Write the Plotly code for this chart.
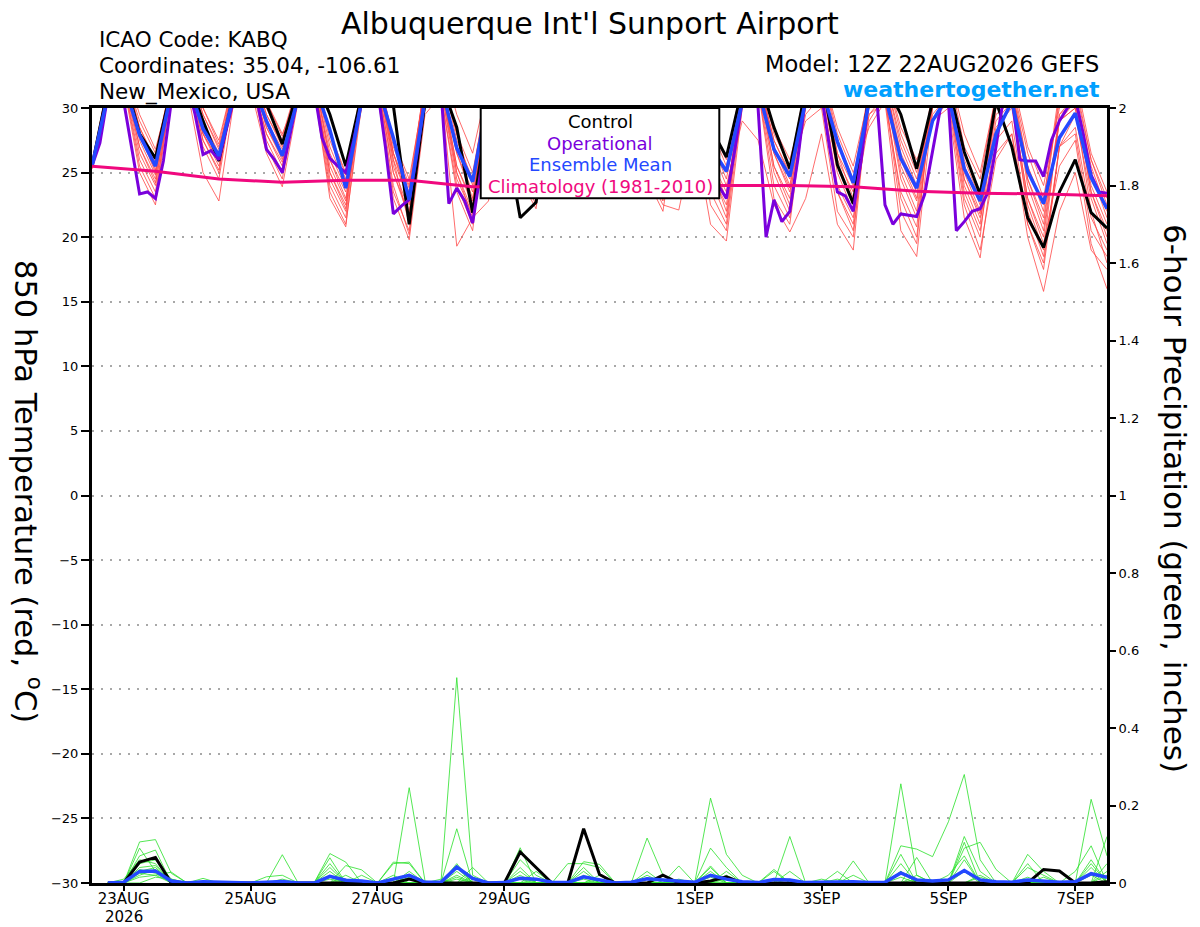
import pandas as pd
import plotly.graph_objects as go

# ---------------- DATA ----------------
RUN_START = "2026-08-22 12:00"
PRECIP_START = "2026-08-22 18:00"

tick_dates = ["2026-08-23", "2026-08-25", "2026-08-27", "2026-08-29",
              "2026-09-01", "2026-09-03", "2026-09-05", "2026-09-07"]
tick_labels = ["23AUG", "25AUG", "27AUG", "29AUG", "1SEP", "3SEP", "5SEP", "7SEP"]
year_label = "2026"

# 850 hPa temperature ensemble members (6-hourly, 22AUG 12Z .. 7SEP 12Z)
member_temps = [
    [25.6, 31.5, 32.8, 27.5, 24.8, 31.8, 33.0, 28.5, 26.2, 32.0, 33.5, 29.5, 27.0, 31.0, 32.0, 25.0, 22.5,
     30.5, 32.5, 26.0, 21.0, 31.0, 32.0, 26.5, 23.0, 31.5, 32.5, 27.5, 24.5, 32.0, 33.0, 28.5, 25.5,
     31.5, 32.5, 27.0, 24.0, 30.5, 31.5, 25.5, 22.0, 31.0, 32.5, 27.0, 24.5, 30.0, 31.5, 24.0, 21.5,
     30.5, 32.0, 25.5, 22.8, 29.5, 31.0, 23.5, 20.5, 28.0, 30.5, 22.0, 18.5, 27.0, 29.5, 23.0, 19.5],
    [25.4, 31.2, 32.5, 28.0, 25.5, 31.5, 32.8, 27.5, 25.0, 31.8, 33.0, 28.5, 26.0, 31.5, 32.5, 26.5, 23.8,
     30.8, 32.0, 24.0, 20.2, 30.0, 31.5, 25.0, 21.5, 31.5, 33.0, 28.0, 25.0, 32.2, 33.5, 29.0, 26.0,
     31.0, 32.0, 26.0, 23.0, 31.2, 32.8, 27.5, 24.5, 30.8, 31.5, 25.0, 22.0, 31.0, 32.0, 26.5, 23.0,
     29.5, 31.0, 23.0, 20.0, 31.0, 32.0, 25.5, 22.5, 30.0, 31.5, 24.5, 21.0, 29.5, 31.0, 25.0, 21.5],
    [25.7, 31.8, 33.0, 29.0, 26.5, 32.0, 33.5, 29.5, 27.0, 31.5, 32.5, 28.0, 25.5, 31.8, 33.0, 27.5, 24.5,
     31.5, 32.8, 26.5, 22.5, 32.0, 33.0, 28.0, 24.0, 31.0, 32.5, 26.0, 23.5, 31.5, 32.5, 27.5, 25.0,
     32.0, 33.0, 28.5, 25.5, 31.0, 32.0, 26.0, 23.0, 31.5, 33.0, 28.0, 25.5, 31.8, 33.0, 27.5, 24.5,
     31.5, 32.5, 27.0, 24.0, 31.0, 32.0, 26.5, 23.5, 30.5, 31.5, 24.0, 20.5, 29.0, 30.0, 22.0, 18.0],
    [25.3, 30.8, 32.0, 26.0, 23.5, 31.2, 32.5, 27.0, 24.5, 31.8, 33.0, 29.0, 26.5, 30.5, 31.8, 24.0, 21.5,
     31.5, 32.5, 26.5, 23.0, 30.0, 31.5, 19.3, 21.5, 22.8, 29.5, 25.0, 22.5, 31.0, 32.0, 27.0, 24.5,
     30.5, 31.5, 25.0, 22.5, 22.1, 28.0, 21.0, 19.7, 30.0, 31.5, 23.0, 21.0, 30.5, 32.0, 25.0, 22.0,
     29.0, 31.0, 22.0, 19.5, 31.5, 33.0, 27.0, 24.5, 31.0, 32.0, 26.5, 23.0, 30.5, 31.5, 26.0, 22.5],
    [25.5, 31.5, 32.8, 28.0, 25.0, 32.0, 33.2, 29.0, 26.5, 32.5, 33.8, 30.0, 27.5, 32.0, 33.0, 28.0, 25.0,
     31.0, 32.0, 25.0, 21.5, 30.5, 32.0, 25.5, 22.5, 32.0, 33.5, 29.0, 26.0, 32.5, 34.0, 30.0, 27.0,
     32.0, 33.5, 29.0, 26.0, 31.5, 33.0, 28.5, 25.5, 31.0, 32.5, 26.5, 23.5, 29.5, 31.0, 23.5, 20.5,
     30.5, 32.0, 26.0, 23.5, 29.0, 30.5, 22.5, 19.0, 26.0, 28.0, 20.0, 15.8, 22.0, 25.0, 19.0, 17.5],
    [25.6, 31.0, 32.2, 26.5, 24.0, 31.5, 32.8, 28.0, 25.5, 31.2, 32.5, 27.5, 25.0, 30.8, 32.0, 24.5, 22.0,
     31.8, 33.0, 27.5, 24.0, 32.0, 33.0, 28.0, 25.0, 31.5, 32.5, 27.0, 24.0, 32.0, 33.0, 28.0, 25.5,
     31.0, 32.5, 26.5, 23.5, 30.5, 31.5, 23.5, 21.0, 31.5, 32.5, 27.0, 24.0, 31.0, 32.5, 26.5, 24.0,
     30.0, 31.5, 24.5, 21.5, 30.5, 31.5, 24.0, 21.0, 31.0, 32.0, 25.5, 22.5, 31.5, 32.5, 26.5, 23.5],
    [25.5, 31.8, 33.0, 28.5, 26.0, 32.2, 33.5, 30.0, 27.5, 32.5, 34.0, 30.5, 28.0, 31.0, 32.5, 26.0, 23.0,
     30.0, 31.0, 23.0, 19.8, 29.5, 31.0, 24.0, 21.0, 31.0, 32.0, 26.0, 23.0, 31.5, 32.5, 27.0, 24.0,
     31.5, 32.5, 27.5, 24.5, 31.0, 32.5, 27.0, 24.0, 29.0, 27.5, 22.5, 20.4, 23.0, 28.0, 21.0, 19.0,
     31.5, 33.0, 28.0, 25.0, 30.5, 31.5, 25.0, 22.0, 29.0, 30.5, 23.0, 19.5, 25.5, 27.5, 19.5, 16.0],
    [25.3, 30.5, 31.8, 25.0, 22.5, 31.5, 32.8, 28.5, 26.0, 32.0, 33.2, 29.0, 26.8, 30.5, 31.5, 23.0, 20.8,
     31.0, 32.5, 25.5, 22.0, 30.8, 32.0, 25.0, 22.0, 32.0, 33.0, 28.5, 25.5, 32.0, 33.5, 29.0, 26.5,
     30.0, 31.0, 24.5, 22.0, 30.5, 32.0, 25.0, 22.5, 31.0, 32.0, 25.5, 23.0, 31.5, 33.0, 28.0, 25.0,
     28.5, 30.5, 20.5, 18.5, 30.0, 31.0, 23.0, 20.0, 30.5, 31.5, 24.5, 21.5, 29.0, 30.5, 23.5, 20.0],
    [25.8, 31.8, 33.0, 28.5, 25.8, 30.5, 31.5, 25.0, 22.8, 31.0, 32.0, 27.0, 24.5, 31.5, 32.8, 27.0, 24.0,
     32.0, 33.0, 27.5, 24.5, 31.5, 32.5, 26.5, 23.5, 31.5, 33.0, 27.5, 24.8, 32.0, 33.0, 28.5, 25.8,
     31.5, 33.0, 27.5, 25.0, 32.0, 33.5, 28.5, 26.0, 32.0, 33.0, 28.5, 26.0, 30.5, 31.5, 25.5, 22.5,
     31.0, 32.0, 26.0, 23.0, 31.5, 33.0, 28.0, 25.0, 31.0, 32.5, 27.0, 24.0, 30.0, 31.0, 25.5, 22.0],
    [25.4, 31.2, 32.5, 27.0, 24.5, 32.0, 33.5, 29.5, 26.8, 32.2, 33.5, 29.5, 27.2, 31.2, 32.0, 25.5, 22.8,
     30.8, 32.0, 25.0, 21.8, 30.0, 31.0, 23.5, 20.5, 30.5, 32.0, 26.5, 23.8, 31.5, 32.5, 27.5, 24.8,
     31.0, 32.5, 26.5, 23.8, 29.5, 30.5, 22.5, 20.5, 30.5, 32.0, 25.5, 22.5, 30.0, 31.0, 23.5, 21.0,
     32.0, 33.0, 28.5, 26.0, 29.0, 30.0, 21.5, 18.4, 27.5, 29.0, 21.0, 17.5, 27.0, 28.5, 21.5, 19.0],
    [25.6, 30.8, 32.0, 25.5, 23.0, 31.8, 33.0, 28.0, 25.8, 31.5, 32.8, 28.5, 26.2, 31.5, 32.5, 26.0, 23.5,
     31.5, 32.8, 26.5, 23.5, 32.0, 33.0, 27.5, 24.5, 32.5, 33.5, 29.5, 26.5, 32.0, 33.0, 28.0, 25.2,
     31.5, 33.0, 27.5, 24.8, 31.0, 32.0, 26.0, 23.5, 30.5, 31.5, 24.0, 21.5, 31.0, 32.5, 26.0, 23.5,
     30.5, 31.5, 25.0, 22.0, 31.0, 32.0, 26.0, 23.0, 29.5, 30.5, 23.0, 20.0, 29.0, 30.0, 24.0, 21.0],
    [25.5, 32.0, 33.5, 29.5, 26.8, 31.5, 32.5, 28.0, 26.0, 30.5, 31.5, 26.5, 23.9, 30.5, 31.5, 23.5, 21.0,
     30.2, 31.5, 23.5, 20.5, 31.0, 32.0, 25.5, 22.8, 31.0, 32.5, 27.0, 24.2, 32.5, 33.5, 29.5, 26.8,
     30.5, 31.8, 25.5, 22.8, 31.5, 32.5, 27.5, 25.0, 31.5, 32.5, 27.5, 25.0, 29.0, 30.0, 22.0, 20.0,
     31.5, 32.5, 27.5, 24.5, 30.5, 31.5, 24.5, 21.5, 26.5, 28.0, 21.0, 18.0, 27.0, 28.0, 20.5, 18.5],
    [25.7, 31.5, 33.0, 28.0, 25.2, 32.0, 33.5, 30.0, 27.2, 32.5, 33.8, 30.5, 27.8, 32.0, 33.0, 28.0, 24.8,
     31.0, 32.5, 26.0, 22.8, 32.5, 34.0, 29.5, 26.5, 32.0, 33.5, 28.5, 25.5, 32.5, 34.0, 30.0, 27.5,
     32.0, 33.5, 29.5, 26.5, 30.5, 31.5, 24.5, 21.5, 31.0, 32.5, 26.5, 23.8, 30.5, 32.0, 25.5, 22.8,
     29.5, 30.5, 23.5, 20.8, 30.5, 32.0, 25.5, 22.8, 30.5, 31.5, 25.5, 22.0, 31.0, 32.0, 26.0, 23.0],
    [25.4, 31.0, 32.2, 27.0, 24.2, 31.5, 32.5, 27.5, 25.2, 31.5, 32.5, 28.0, 25.8, 31.0, 32.0, 25.0, 22.2,
     31.5, 33.0, 27.0, 23.8, 30.5, 31.5, 24.5, 21.8, 30.5, 31.5, 24.5, 22.2, 31.5, 32.5, 27.5, 25.0,
     31.0, 32.0, 25.5, 23.2, 31.0, 32.0, 25.5, 23.0, 31.5, 32.5, 27.5, 24.8, 32.0, 33.0, 28.5, 25.5,
     31.0, 32.0, 26.5, 23.8, 30.0, 31.0, 24.5, 21.8, 28.5, 30.0, 22.5, 19.0, 29.5, 30.5, 23.5, 20.5],
]

control_temp = [25.5,
                31.5, 32.5, 28.0, 26.1, 31.5, 32.5, 29.0, 25.9, 31.5, 32.5, 30.3, 27.2, 31.5, 32.5, 29.5, 25.5,
                31.0, 32.5, 30.2, 21.0, 30.5, 32.0, 28.5, 21.9, 30.0, 28.5, 21.5, 22.7, 31.0, 32.5, 28.5, 25.5,
                31.0, 32.5, 28.0, 25.5, 31.0, 32.0, 28.5, 26.2, 31.5, 32.5, 28.5, 25.3, 31.5, 32.5, 25.6, 22.6,
                31.0, 32.0, 29.5, 25.3, 30.5, 31.8, 26.6, 23.3, 30.5, 27.0, 21.5, 19.2, 23.5, 26.0, 21.9, 20.7]

mean_temp = [25.5,
             31.0, 32.0, 27.9, 25.5, 31.2, 32.2, 28.4, 26.3, 31.3, 32.3, 29.0, 26.3, 30.8, 32.0, 28.3, 23.8,
             30.6, 31.8, 27.7, 22.9, 30.7, 31.8, 26.9, 24.3, 31.0, 32.0, 27.2, 24.6, 31.2, 32.3, 27.8, 25.3,
             31.0, 32.0, 27.0, 24.6, 30.8, 31.8, 27.0, 25.1, 30.5, 31.5, 26.8, 24.7, 30.6, 31.6, 27.4, 24.2,
             30.5, 31.0, 26.1, 23.8, 29.0, 31.0, 25.3, 22.8, 28.0, 30.5, 25.1, 22.6, 27.7, 29.6, 24.6, 22.2]

# operational run, 3-hourly
operational_temp = [25.5, 27.3, 31.0, 32.0,
                    30.5, 27.0, 23.35, 23.5, 23.0, 25.9, 30.5, 32.0,
                    32.0, 29.5, 26.4, 26.7, 26.0, 28.5, 31.0, 32.0,
                    32.0, 30.0, 26.8, 26.0, 25.0, 28.0, 31.0, 32.0,
                    31.5, 27.7, 26.1, 25.5, 25.0, 27.5, 30.5, 31.5,
                    31.5, 27.0, 21.8, 22.4, 22.9, 26.5, 31.0, 32.0,
                    31.5, 22.6, 23.8, 22.8, 21.1, 25.0, 30.0, 31.0,
                    32.0, 29.0, 26.0, 25.0, 24.5, 27.0, 31.0, 32.0,
                    32.0, 29.5, 26.5, 25.5, 25.0, 28.0, 31.5, 32.5,
                    32.0, 29.0, 26.0, 25.0, 24.5, 27.5, 31.0, 32.0,
                    31.5, 28.0, 25.0, 24.0, 23.0, 26.5, 30.5, 31.5,
                    30.0, 20.0, 22.9, 21.2, 22.0, 26.0, 31.0, 32.0,
                    31.0, 27.0, 23.5, 23.2, 22.0, 26.0, 31.0, 30.5,
                    22.5, 21.0, 21.8, 21.7, 21.6, 23.3, 26.6, 30.0,
                    30.5, 20.5, 21.2, 22.0, 22.2, 23.5, 27.0, 31.0,
                    31.0, 26.0, 25.9, 25.9, 24.7, 27.5, 29.0, 30.0,
                    30.8, 28.0, 24.8, 23.5, 23.4]

# 1981-2010 climatology, daily at 12Z
climatology_temp = [25.5, 25.1, 24.5, 24.25, 24.4, 24.4, 23.9, 23.9, 24.0,
                    24.0, 24.05, 24.0, 23.9, 23.55, 23.4, 23.35, 23.2]

# 6-hour precipitation members (22AUG 18Z .. 7SEP 12Z)
member_precip = [
    [0, 0, .106, .112, .025, 0, 0, 0,  0, 0, 0, 0, 0, 0, .04, 0,  0, 0, 0, .246, .005, 0, 0, 0,  0, 0, 0, 0, 0, 0, 0, 0,
     0, 0, 0, 0, 0, 0, .044, 0,  0, 0, 0, 0, 0, 0, 0, 0,  0, 0, .03, 0, 0, 0, .105, 0,  0, 0, 0, 0, 0, 0, .06, 0],
    [0, 0, .09, .03, 0, 0, 0, 0,  0, 0, 0, .073, 0, 0, .076, .054,  0, 0, 0, 0, 0, 0, .53, .02,  0, 0, .04, 0, 0, 0, 0, 0,
     0, 0, 0, 0, 0, 0, 0, 0,  0, 0, 0, .12, 0, 0, 0, 0,  0, 0, 0, .066, 0, 0, 0, 0,  0, 0, .074, .03, 0, 0, 0, 0],
    [0, 0, .07, .085, 0, 0, .012, 0,  0, 0, 0, 0, 0, 0, .065, 0,  0, 0, .054, .05, 0, 0, .14, 0,  0, 0, 0, .03, 0, 0, 0, 0,
     0, 0, .116, .02, 0, 0, 0, 0,  0, 0, 0, 0, 0, 0, 0, 0,  0, 0, .256, .02, 0, 0, 0, 0,  0, 0, 0, 0, 0, 0, 0, .12],
    [0, 0, .05, .06, .01, 0, 0, 0,  0, 0, 0, 0, 0, 0, 0, .045,  .034, 0, 0, 0, 0, 0, .05, 0,  0, 0, .091, 0, 0, 0, .055, .048,
     0, 0, 0, 0, 0, 0, .219, .074,  .02, 0, 0, 0, 0, 0, 0, 0,  0, 0, 0, 0, 0, 0, .12, .03,  0, 0, 0, 0, 0, 0, 0, 0],
    [0, 0, .04, .045, 0, 0, 0, 0,  0, 0, .016, .02, 0, 0, .05, 0,  0, 0, .05, .054, 0, 0, .045, 0,  0, 0, 0, 0, 0, .05, .05, .04,
     0, 0, 0, 0, .044, 0, 0, 0,  0, 0, 0, 0, 0, 0, 0, 0,  0, 0, .096, .0875, .068, .158, .28, .06,  0, 0, 0, 0, 0, 0, .04, 0],
    [0, 0, .03, .04, 0, 0, 0, 0,  0, 0, 0, 0, 0, 0, .03, 0,  0, 0, 0, 0, 0, 0, .04, 0,  0, 0, .06, .02, 0, 0, .04, 0,
     0, 0, 0, 0, 0, 0, .09, .04,  0, 0, 0, 0, 0, 0, 0, .057,  0, 0, .074, 0, 0, 0, .09, .105,  .035, 0, 0, 0, 0, 0, .216, .07],
    [0, 0, .025, .02, .028, 0, 0, 0,  0, 0, 0, 0, 0, 0, 0, 0,  .02, 0, 0, 0, 0, .01, 0, .04,  0, 0, 0, 0, 0, 0, .03, 0,
     0, 0, .03, 0, 0, 0, .04, 0,  0, 0, .035, 0, 0, 0, .03, 0,  0, 0, .03, 0, 0, 0, 0, 0,  0, 0, .05, 0, 0, .03, .096, 0],
    [0, 0, .02, .035, 0, 0, 0, 0,  0, 0, 0, 0, 0, 0, .02, 0,  0, 0, 0, .03, 0, 0, .02, 0,  0, 0, .02, 0, 0, 0, 0, .02,
     0, 0, 0, 0, 0, 0, 0, .03,  0, 0, 0, .03, 0, .01, 0, 0,  0, 0, 0, 0, 0, 0, .06, 0,  0, 0, .04, .02, 0, 0, 0, .05],
    [0, .01, .06, .05, 0, 0, 0, 0,  0, 0, 0, 0, 0, 0, 0, .02,  0, 0, .02, 0, 0, 0, .03, 0,  0, 0, .03, 0, 0, 0, 0, 0,
     0, 0, .02, 0, 0, 0, .03, 0,  0, 0, .03, 0, 0, 0, 0, 0,  0, 0, .05, 0, 0, .02, .07, 0,  0, 0, 0, 0, 0, 0, .05, 0],
    [0, 0, .035, .025, 0, 0, 0, 0,  0, 0, 0, .01, 0, 0, .015, 0,  0, 0, 0, .02, 0, 0, 0, .015,  0, 0, 0, .01, 0, 0, .02, 0,
     0, 0, 0, .01, 0, 0, 0, .02,  0, 0, 0, 0, 0, 0, 0, .02,  0, 0, 0, .02, 0, 0, 0, .02,  0, 0, 0, .015, 0, 0, 0, .03],
    [0, 0, .015, .02, 0, 0, 0, 0,  0, 0, 0, 0, 0, 0, .01, 0,  0, 0, 0, 0, 0, 0, .01, 0,  0, 0, .01, 0, 0, 0, .01, 0,
     0, 0, 0, 0, 0, 0, .015, 0,  0, 0, 0, .01, 0, 0, 0, 0,  0, 0, .015, 0, 0, 0, .03, 0,  0, 0, 0, 0, 0, 0, .02, 0],
    [0, 0, 0, .015, .01, 0, 0, 0,  0, 0, 0, 0, 0, 0, 0, .01,  0, 0, 0, .015, 0, 0, .015, 0,  0, 0, 0, 0, 0, 0, 0, .01,
     0, 0, 0, 0, .01, 0, 0, .01,  0, 0, 0, 0, 0, 0, .01, 0,  0, 0, 0, .01, 0, 0, 0, .015,  0, 0, .015, 0, 0, 0, 0, .02],
]

control_precip = [0, 0, .054, .066, 0, 0, 0, 0,  0, 0, 0, 0, 0, 0, 0, 0,  0, 0, 0, .01, 0, 0, 0, 0,
                  0, 0, .08, .04, 0, 0, .14, .022,  0, 0, 0, .02, 0, 0, .005, .016,  0, 0, 0, 0, 0, 0, 0, 0,
                  0, 0, 0, 0, 0, 0, 0, 0,  0, 0, 0, .035, .031, 0, 0, .003]

mean_precip = [0, .002, .03, .031, .005, 0, .003, .002,  0, 0, .002, .004, 0, 0, .017, .007,
               .005, 0, .01, .02, .002, .002, .041, .012,  0, .001, .012, .01, .002, .001, .016, .008,
               0, .002, .011, .008, .004, .002, .02, .01,  .003, .001, .009, .008, .001, .002, .003, .003,
               .001, .002, .026, .008, .005, .008, .032, .008,  .003, .002, .008, .004, .002, .003, .024, .015]

# ---------------- STYLE ----------------
FONT = "DejaVu Sans"
RED = "rgb(255,70,70)"
GREEN = "rgb(40,225,40)"
BLACK = "#000000"
PURPLE = "#7A00DC"
BLUE = "#2448FF"
MAGENTA = "#F0087E"

# the page body has an 8px margin, so the figure is offset by 8px
PAGE_OFF = 8
W, H = 1200 - PAGE_OFF, 927 - PAGE_OFF
L, T, B = 92 - PAGE_OFF, 108 - PAGE_OFF, 44
PW, PH = 1015, H - T - B
R = W - L - PW
PLOT_LEFT, PLOT_BOTTOM = L + PAGE_OFF, T + PAGE_OFF + PH


def px(x):
    return (x - PLOT_LEFT) / PW


def py(y):
    return (PLOT_BOTTOM - y) / PH


temp_times = pd.date_range(RUN_START, periods=len(control_temp), freq="6h")
op_times = pd.date_range(RUN_START, periods=len(operational_temp), freq="3h")
precip_times = pd.date_range(PRECIP_START, periods=len(control_precip), freq="6h")
clim_times = pd.date_range(RUN_START, periods=len(climatology_temp), freq="24h")

fig = go.Figure()

for m in member_temps:
    fig.add_trace(go.Scatter(x=temp_times, y=m, mode="lines",
                             line=dict(color=RED, width=0.8), yaxis="y", hoverinfo="skip"))
for m in member_precip:
    fig.add_trace(go.Scatter(x=precip_times, y=m, mode="lines",
                             line=dict(color=GREEN, width=0.8), yaxis="y2", hoverinfo="skip"))

fig.add_trace(go.Scatter(x=precip_times, y=control_precip, mode="lines",
                         line=dict(color=BLACK, width=3), yaxis="y2"))
fig.add_trace(go.Scatter(x=precip_times, y=mean_precip, mode="lines",
                         line=dict(color=BLUE, width=3.5), yaxis="y2"))

fig.add_trace(go.Scatter(x=temp_times, y=control_temp, mode="lines",
                         line=dict(color=BLACK, width=3), yaxis="y"))
fig.add_trace(go.Scatter(x=op_times, y=operational_temp, mode="lines",
                         line=dict(color=PURPLE, width=3), yaxis="y"))
fig.add_trace(go.Scatter(x=temp_times, y=mean_temp, mode="lines",
                         line=dict(color=BLUE, width=3.5), yaxis="y"))
fig.add_trace(go.Scatter(x=clim_times, y=climatology_temp, mode="lines",
                         line=dict(color=MAGENTA, width=3), yaxis="y"))

ann = []
ann.append(dict(text="Albuquerque Int'l Sunport Airport", x=px(590), y=py(24),
                xanchor="center", yanchor="middle", font=dict(size=30)))
for txt, yy in [("ICAO Code: KABQ", 39.5), ("Coordinates: 35.04, -106.61", 66), ("New_Mexico, USA", 92)]:
    ann.append(dict(text=txt, x=px(97), y=py(yy), xanchor="left", yanchor="middle", font=dict(size=21.5)))
ann.append(dict(text="Model: 12Z 22AUG2026 GEFS", x=px(1101), y=py(64),
                xanchor="right", yanchor="middle", font=dict(size=22.5)))
ann.append(dict(text="<b>weathertogether.net</b>", x=px(1102), y=py(89.5),
                xanchor="right", yanchor="middle", font=dict(size=22, color="#00A0FF")))
legend_items = [("Control", BLACK, 121.5), ("Operational", PURPLE, 143),
                ("Ensemble Mean", BLUE, 164.5), ("Climatology (1981-2010)", MAGENTA, 186.5)]
for txt, col, yy in legend_items:
    ann.append(dict(text=txt, x=px(600), y=py(yy), xanchor="center", yanchor="middle",
                    font=dict(size=18, color=col)))
ann.append(dict(text=year_label, x=px(124), y=py(916.5), xanchor="center", yanchor="middle",
                font=dict(size=15)))
ann.append(dict(text="850 hPa Temperature (red, <sup>o</sup>C)", x=px(28.5), y=py(491.5),
                xanchor="center", yanchor="middle", textangle=90, font=dict(size=30.5)))
ann.append(dict(text="6-hour Precipitation (green, inches)", x=px(1175), y=py(498),
                xanchor="center", yanchor="middle", textangle=90, font=dict(size=31)))
for a in ann:
    a.update(xref="paper", yref="paper", showarrow=False)

fig.update_layout(
    width=W, height=H, autosize=False,
    margin=dict(l=L, r=R, t=T, b=B, pad=0, autoexpand=False),
    paper_bgcolor="white", plot_bgcolor="white",
    showlegend=False,
    font=dict(family=FONT, color="black"),
    annotations=ann,
    shapes=[dict(type="rect", xref="paper", yref="paper",
                 x0=px(480.7), x1=px(719.3), y0=py(198.3), y1=1.0,
                 fillcolor="white", line=dict(color="black", width=2), layer="above")],
    xaxis=dict(range=["2026-08-22 12:00", "2026-09-07 12:00"], type="date",
               tickvals=tick_dates, ticktext=tick_labels, tickfont=dict(size=15),
               ticks="outside", ticklen=5, tickcolor="black", tickwidth=1.5,
               ticklabelstandoff=-5,
               showgrid=False, zeroline=False, automargin=False,
               showline=True, linecolor="black", linewidth=3, mirror=True),
    yaxis=dict(range=[-30, 30], dtick=5, tickfont=dict(size=13),
               ticks="outside", ticklen=8, tickcolor="black", tickwidth=1.5,
               showgrid=True, gridcolor="#A8A8A8", griddash="2px,7px", gridwidth=1.5,
               zeroline=False, automargin=False,
               showline=True, linecolor="black", linewidth=3, mirror=True),
    yaxis2=dict(range=[0, 2], dtick=0.2, overlaying="y", side="right", tickfont=dict(size=13),
                ticks="outside", ticklen=6, tickcolor="black", tickwidth=1.5,
                showgrid=False, zeroline=False, automargin=False,
                showline=True, linecolor="black", linewidth=3),
)

fig.write_html("out.html")
